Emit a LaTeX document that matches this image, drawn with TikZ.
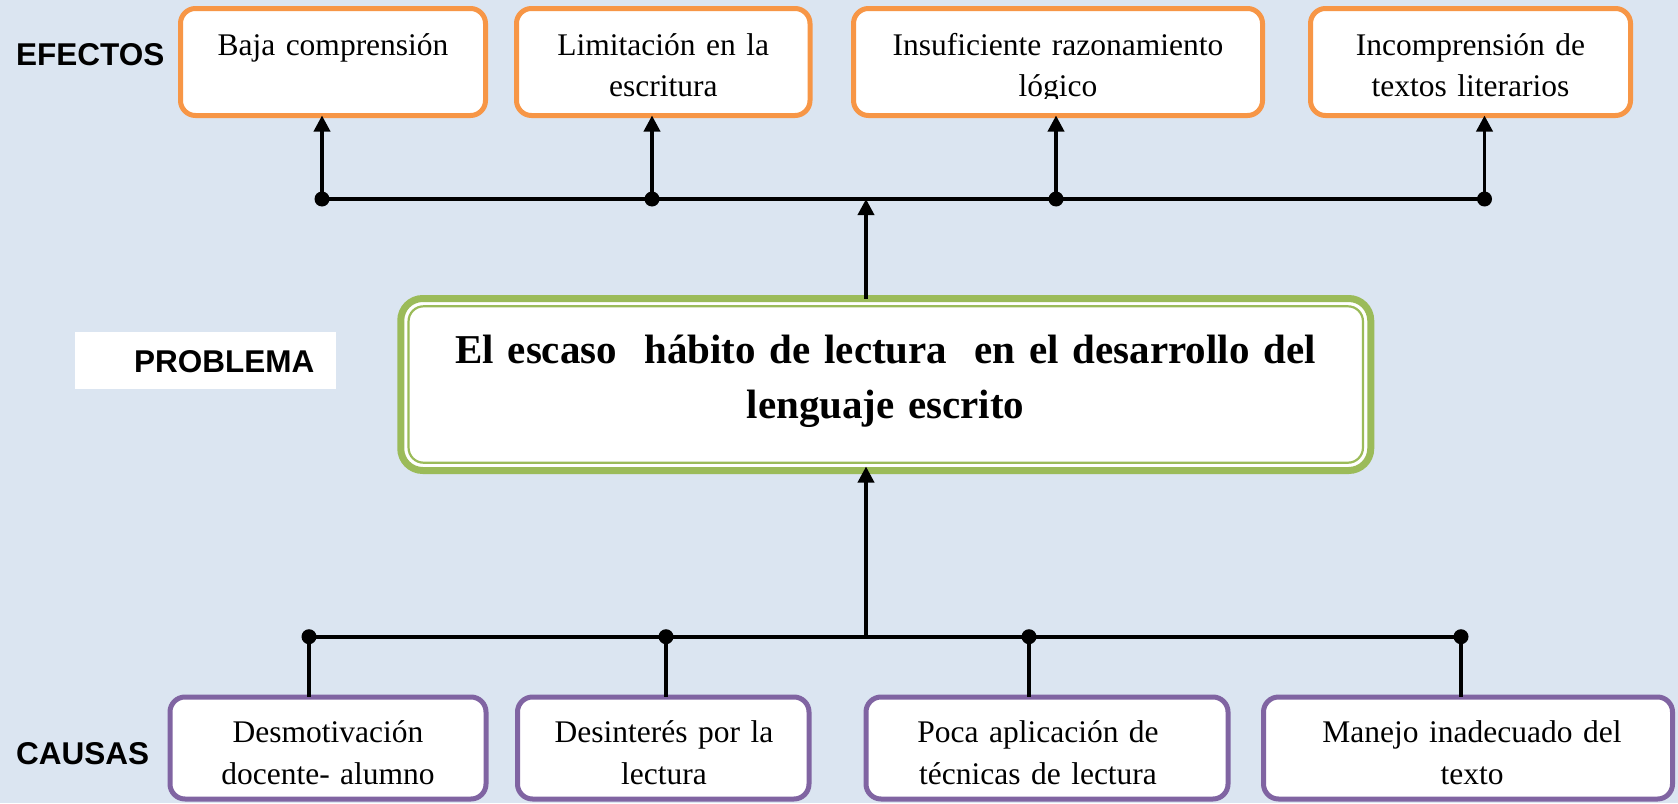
\documentclass[tikz,border=0pt]{standalone}
\usepackage{fontspec}
\setmainfont{Liberation Serif}
\newfontfamily\labelfont{Liberation Sans}
\usetikzlibrary{arrows.meta}
\definecolor{bg}{HTML}{DBE5F1}
\definecolor{effcol}{HTML}{F79646}
\definecolor{probcol}{HTML}{9BBB59}
\definecolor{causecol}{HTML}{8064A2}
\begin{document}
\begin{tikzpicture}[x=1pt,y=-1pt,
  conn/.style={line width=3.6pt, draw=black},
  arr/.style={conn, -{Triangle[length=16pt,width=16pt]}},
  dot/.style={circle, fill=black, inner sep=0pt, minimum size=15pt},
  effbox/.style={draw=effcol, line width=5pt, fill=white, rounded corners=15pt, inner sep=0pt, outer sep=0pt, minimum height=107pt},
  causebox/.style={draw=causecol, line width=5pt, fill=white, rounded corners=15pt, inner sep=0pt, outer sep=0pt, minimum height=102pt},
  boxtext/.style={anchor=base, text width=400pt, align=center, inner sep=0pt, font=\fontsize{31.5}{41.5}\selectfont},
  lbl/.style={anchor=base west, inner sep=0pt, font=\labelfont\bfseries\fontsize{31.5}{36}\selectfont},
]
\fill[bg] (0,0) rectangle (1678,803);
\useasboundingbox (0,0) rectangle (1678,803);

% effects
\node[effbox, minimum width=305pt] (e1) at (333,62) {};
\node[effbox, minimum width=293.5pt] (e2) at (663.25,62) {};
\node[effbox, minimum width=409pt] (e3) at (1058,62) {};
\node[effbox, minimum width=320pt] (e4) at (1470.5,62) {};
\node[boxtext] (t1) at (333,55) {Baja comprensión};
\node[boxtext] (t2) at (663.25,55) {Limitación en la\\escritura};
\begin{scope}
\clip (851,6) rectangle (1265,98);
\node[boxtext] (t3) at (1058,55) {Insuficiente razonamiento\\lógico};
\end{scope}
\node[boxtext] (t4) at (1470.5,55) {Incomprensión de\\textos literarios};

% problem
\node[fill=white, draw=probcol, line width=7pt, rounded corners=22pt, minimum width=970pt, minimum height=172pt, inner sep=0pt, outer sep=0pt] (p) at (885.75,384.5) {};
\draw[probcol, line width=2.2pt, rounded corners=15pt] ([shift={(7.8pt,-7.8pt)}]p.north west) rectangle ([shift={(-7.8pt,7.8pt)}]p.south east);
\node[anchor=base, text width=960pt, align=center, inner sep=0pt, font=\bfseries\fontsize{41}{55}\selectfont] (pt) at (885.5,363) {El escaso\ \ hábito de lectura\ \ en el desarrollo del\\lenguaje escrito};

% labels
\node[lbl] (lef) at (16,65.7) {EFECTOS};
\node[fill=white, minimum width=261pt, minimum height=57.3pt, inner sep=0pt] (plb) at (205.5,360.35) {};
\node[lbl] (lpr) at (134,372.3) {PROBLEMA};
\node[lbl] (lca) at (16,764) {CAUSAS};

% effects connectors
\coordinate (ej) at (866,199);
\node[dot] (d1) at (322,199) {};
\node[dot] (d2) at (652,199) {};
\node[dot] (d3) at (1056,199) {};
\node[dot] (d4) at (1484.5,199) {};
\draw[conn] (d1.center) -- (d4.center);
\draw[arr] (d1.center) -- (d1 |- e1.south);
\draw[arr] (d2.center) -- (d2 |- e2.south);
\draw[arr] (d3.center) -- (d3 |- e3.south);
\draw[arr] (d4.center) -- (d4 |- e4.south);
\draw[arr] (ej |- p.north) -- (ej);

% causes
\node[causebox, minimum width=316pt] (c1) at (328,748) {};
\node[causebox, minimum width=291.5pt] (c2) at (663.25,748) {};
\node[causebox, minimum width=362pt] (c3) at (1047,748) {};
\node[causebox, minimum width=409pt] (c4) at (1468,748) {};
\node[boxtext] (u1) at (328,742.5) {Desmotivación\\docente- alumno};
\node[boxtext] (u2) at (664,742.5) {Desinterés por la\\lectura};
\node[boxtext] (u3) at (1038,742.5) {Poca aplicación de\\técnicas de lectura};
\node[boxtext] (u4) at (1472,742.5) {Manejo inadecuado del\\texto};

\coordinate (cj) at (866,636.7);
\node[dot] (k1) at (309,636.7) {};
\node[dot] (k2) at (666,636.7) {};
\node[dot] (k3) at (1029,636.7) {};
\node[dot] (k4) at (1461,636.7) {};
\draw[conn] (k1.center) -- (k4.center);
\draw[conn] (k1.center) -- (k1 |- c1.north);
\draw[conn] (k2.center) -- (k2 |- c2.north);
\draw[conn] (k3.center) -- (k3 |- c3.north);
\draw[conn] (k4.center) -- (k4 |- c4.north);
\draw[arr] (cj) -- ([yshift=4pt]cj |- p.south);
\end{tikzpicture}
\end{document}
